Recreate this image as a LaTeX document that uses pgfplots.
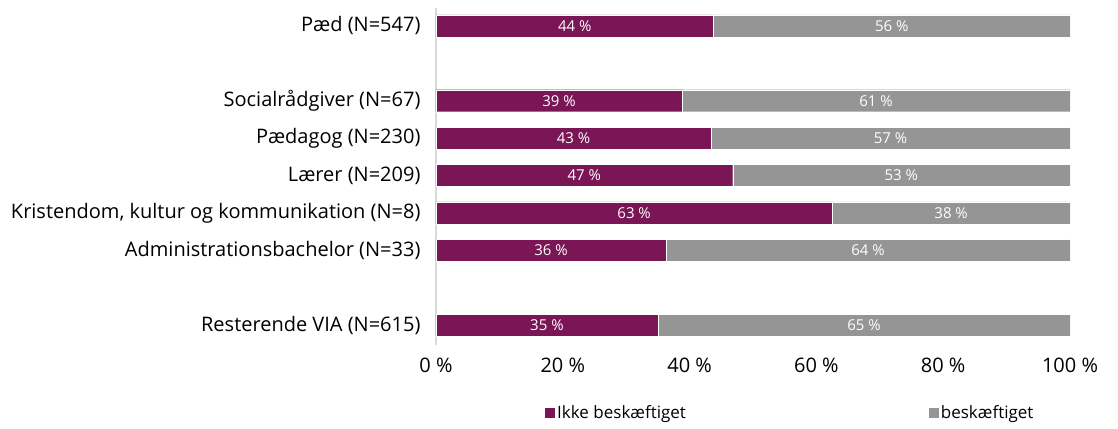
\documentclass[border=0pt]{standalone}
\usepackage{pgfplots}
\pgfplotsset{compat=1.18}
\usepackage{pgfplotstable}
\usepackage{fontspec}
\setmainfont{Open Sans}
\definecolor{vpurple}{HTML}{7A1656}
\definecolor{vgray}{HTML}{959595}

\pgfplotstableread{
pos ikke ikkelab besk besklab
8 43.8 44 56.2 56
6 38.8 39 61.2 61
5 43.4 43 56.6 57
4 46.8 47 53.2 53
3 62.5 63 37.5 38
2 36.3 36 63.7 64
0 35.0 35 65.0 65
}\data

\begin{document}
\begin{tikzpicture}
\useasboundingbox (-436pt,-83pt) rectangle (682pt,345pt);
\begin{axis}[
  at={(0,0)}, anchor=south west,
  scale only axis, width=634pt, height=337pt,
  xbar stacked, bar width=22pt,
  xmin=0, xmax=100, ymin=-0.535, ymax=8.48,
  /pgf/number format/assume math mode=true,
  xtick={0,20,40,60,80,100},
  xticklabel={\pgfmathprintnumber{\tick}~\%},
  ytick={0,2,3,4,5,6,8},
  yticklabels={Resterende VIA (N=615), Administrationsbachelor (N=33), {Kristendom, kultur og kommunikation (N=8)}, Lærer (N=209), Pædagog (N=230), Socialrådgiver (N=67), Pæd (N=547)},
  major tick length=0pt,
  axis lines*=left,
  x axis line style={draw=none},
  y axis line style={draw=black!15, line width=1.2pt},
  yticklabel style={font=\fontsize{20}{23}\selectfont, xshift=-12pt},
  xticklabel style={font=\fontsize{20}{24}\selectfont, yshift=-9pt},
  legend style={at={(axis description cs:0.172,-0.201)}, anchor=west, draw=none,
    font=\fontsize{17}{20}\selectfont, inner sep=0pt,
    /tikz/every even column/.append style={column sep=241pt}},
  legend columns=2,
  legend image code/.code={\fill[#1,draw=none] (0pt,-5pt) rectangle (10pt,5pt);},
]
\addplot[fill=vpurple, draw=white, line width=0.4pt,
  point meta=\thisrow{ikkelab},
  nodes near coords={\pgfmathprintnumber{\pgfplotspointmeta}~\%},
  every node near coord/.style={anchor=center, text=white, font=\fontsize{15}{18}\selectfont}]
  table[x=ikke, y=pos]{\data};
\addlegendentry{Ikke beskæftiget}
\addplot[fill=vgray, draw=white, line width=0.4pt,
  point meta=\thisrow{besklab},
  nodes near coords={\pgfmathprintnumber{\pgfplotspointmeta}~\%},
  every node near coord/.style={anchor=center, text=white, font=\fontsize{15}{18}\selectfont}]
  table[x=besk, y=pos]{\data};
\addlegendentry{beskæftiget}
\end{axis}
\end{tikzpicture}
\end{document}
